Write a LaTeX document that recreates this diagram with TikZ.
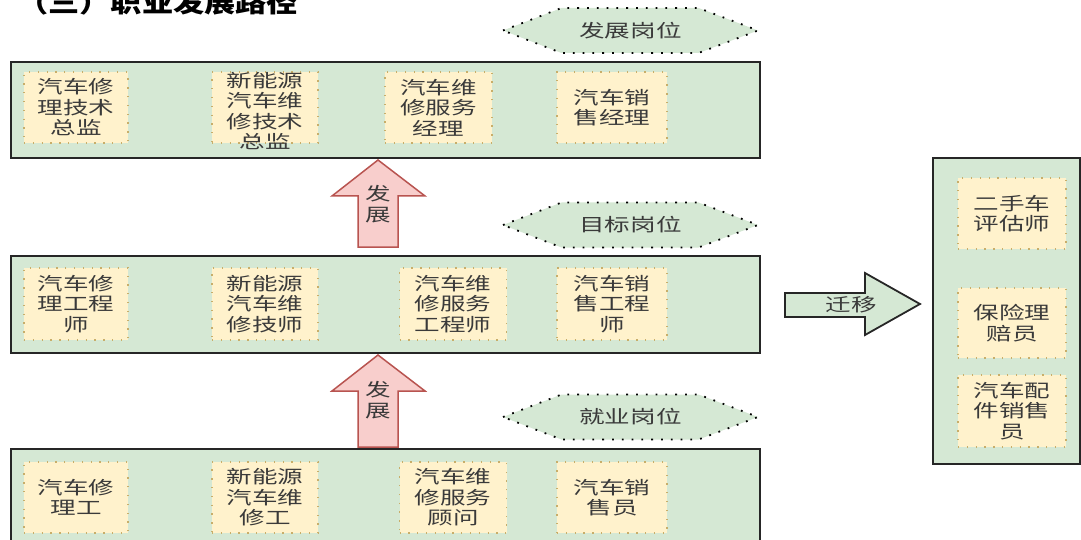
\documentclass[tikz,border=0pt]{standalone}
\usepackage{fontspec}
\newfontfamily\cjk[FakeStretch=1.42]{Noto Sans CJK SC}
\newfontfamily\cjktitle[FakeStretch=1.2]{Noto Sans CJK SC}
\usetikzlibrary{calc}
\definecolor{boxgreen}{HTML}{D5E8D4}
\definecolor{inneryellow}{HTML}{FFF2CC}
\definecolor{innerborder}{HTML}{C8AE6A}
\definecolor{arrowred}{HTML}{F8CECC}
\definecolor{arrowredline}{HTML}{B85450}
\definecolor{textgray}{HTML}{3A3A3A}
\definecolor{outerline}{HTML}{262626}
\tikzset{
  outerbox/.style={draw=outerline, line width=2pt, fill=boxgreen, inner sep=0pt, anchor=north west},
  innerbox/.style={draw=innerborder, line width=1.3pt, dash pattern=on 1.3pt off 7.5pt, fill=inneryellow,
    text=textgray, font=\cjk\fontsize{18}{20.5}\selectfont, align=center, inner sep=0pt},
  plaintext/.style={text=textgray, font=\cjk\fontsize{18}{20.5}\selectfont, align=center, inner sep=0pt},
  hexline/.style={draw=black, line width=1.8pt, dash pattern=on 1.8pt off 8pt, fill=boxgreen},
  uparrow/.style={draw=arrowredline, line width=1.5pt, fill=arrowred, line join=miter},
  rightarrow/.style={draw=outerline, line width=1.8pt, fill=boxgreen, line join=miter},
}
\begin{document}
\begin{tikzpicture}[x=1pt,y=-1pt]
\useasboundingbox (0,0) rectangle (1081,540);

% title (cut off at the top, as in the reference)
\node[anchor=base west, inner sep=0pt, font=\cjktitle\bfseries\fontsize{26}{30}\selectfont] (title) at (17,12.5) {（三）职业发展路径};

% outer boxes
\node[outerbox, minimum width=749, minimum height=96] (topbox) at (10,61) {};
\node[outerbox, minimum width=749, minimum height=97] (midbox) at (10,255) {};
\node[outerbox, minimum width=749, minimum height=130] (botbox) at (10,448) {};
\node[outerbox, minimum width=147, minimum height=306] (rightbox) at (932,157) {};

% hexagon labels
\foreach \n/\cy in {h1/30.5, h2/225, h3/417} {
  \coordinate (\n) at (630.5,\cy);
  \draw[hexline] ($(\n)+(-127.5,0)$) -- ($(\n)+(-69,-22.5)$) -- ($(\n)+(68,-22.5)$) -- ($(\n)+(127.5,0)$)
     -- ($(\n)+(68,22.5)$) -- ($(\n)+(-69,22.5)$) -- cycle;
}
\node[plaintext] (h1t) at (h1) {发展岗位};
\node[plaintext] (h2t) at (h2) {目标岗位};
\node[plaintext] (h3t) at (h3) {就业岗位};

% top row
\node[innerbox, minimum width=104, minimum height=71] (t1) at (76,107.5) {汽车修\\理技术\\总监};
\node[innerbox, minimum width=106, minimum height=71] (t2) at (265,107.5) {};
\node[plaintext] (t2t) at (265,111) {新能源\\汽车维\\修技术\\总监};
\node[innerbox, minimum width=107, minimum height=71] (t3) at (438.5,107.5) {汽车维\\修服务\\经理};
\node[innerbox, minimum width=110, minimum height=71] (t4) at (612,107.5) {汽车销\\售经理};

% middle row
\node[innerbox, minimum width=104, minimum height=72] (m1) at (76,304) {汽车修\\理工程\\师};
\node[innerbox, minimum width=106, minimum height=72] (m2) at (265,304) {新能源\\汽车维\\修技师};
\node[innerbox, minimum width=107, minimum height=72] (m3) at (453,304) {汽车维\\修服务\\工程师};
\node[innerbox, minimum width=110, minimum height=72] (m4) at (612,304) {汽车销\\售工程\\师};

% bottom row
\node[innerbox, minimum width=104, minimum height=71] (b1) at (76,497.5) {汽车修\\理工};
\node[innerbox, minimum width=106, minimum height=71] (b2) at (265,497.5) {新能源\\汽车维\\修工};
\node[innerbox, minimum width=107, minimum height=71] (b3) at (453,497.5) {汽车维\\修服务\\顾问};
\node[innerbox, minimum width=110, minimum height=71] (b4) at (612,497.5) {汽车销\\售员};

% right column
\node[innerbox, minimum width=108, minimum height=71] (r1) at (1012,213.5) {二手车\\评估师};
\node[innerbox, minimum width=108, minimum height=70] (r2) at (1012,323) {保险理\\赔员};
\node[innerbox, minimum width=108, minimum height=72] (r3) at (1012,411) {汽车配\\件销售\\员};

% development arrows
\draw[uparrow] (358,247) -- (358,196) -- (332,196) -- (378,160) -- (425,196) -- (398,196) -- (398,247) -- cycle;
\node[plaintext] (fz1) at (378,204) {发\\展};
\draw[uparrow] (358,447) -- (358,391) -- (332,391) -- (378,355) -- (425,391) -- (398,391) -- (398,447) -- cycle;
\node[plaintext] (fz2) at (378,400) {发\\展};

% transfer arrow
\draw[rightarrow] (785,293) -- (865,293) -- (865,273) -- (920,304) -- (865,335) -- (865,317) -- (785,317) -- cycle;
\node[plaintext] (qy) at (851,305) {迁移};
\end{tikzpicture}
\end{document}
